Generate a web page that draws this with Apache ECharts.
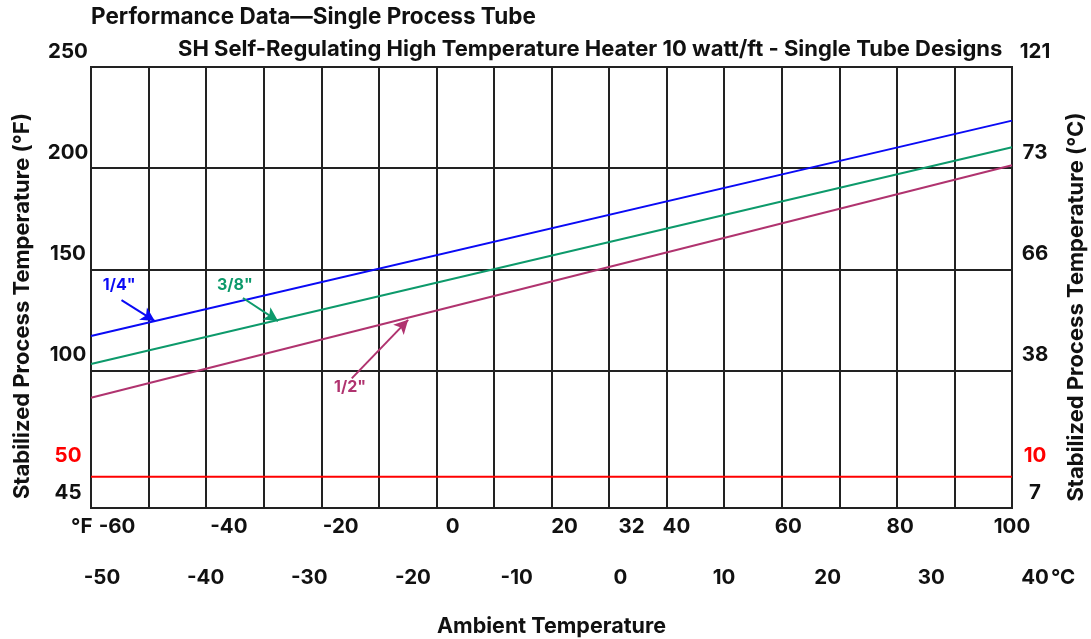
<!DOCTYPE html>
<html>
<head>
<meta charset="utf-8">
<title>SH Self-Regulating Heater - Performance Data</title>
<script src="https://cdn.jsdelivr.net/npm/echarts@6/dist/echarts.min.js"></script>
<style>
  html, body { margin: 0; padding: 0; background: #fff; }
  #chart { width: 1091px; height: 639px; }
</style>
</head>
<body>
<div id="chart"></div>
<script>
// ambient temperature at the two ends of each line (°F)
const ambientF = [-60, 100]
// stabilized process temperature (°F) per tube size
const tubeQuarter = [117.0, 223.5]
const tubeThreeEighths = [103.2, 210.3]
const tubeHalf = [86.5, 201.4]
// red reference line
const redLine = [47.5, 47.5]

// tick labels
const xTicksF = [-60, -40, -20, 0, 20, 32, 40, 60, 80, 100]
const xTicksC = [-50, -40, -30, -20, -10, 0, 10, 20, 30, 40]
const yGridValues = [250, 200, 150, 100, 32]
const yTickValues = [250, 200, 150, 100, 50, 32]
const yLabelsF = ['250', '200', '150', '100', '50', '45']
const yLabelsC = ['121', '73', '66', '38', '10', '7']

// callouts: label point, arrow start, arrow tip (°F, °F)
const calloutQuarter = ['1/4"', [-55.1, 142.2], [-54.7, 134.8], [-48.9, 124.4]]
const calloutThreeEighths = ['3/8"', [-35.0, 142.2], [-33.6, 135.8], [-27.5, 124.4]]
const calloutHalf = ['1/2"', [-15.0, 91.8], [-14.7, 96.1], [-4.9, 125.0]]

const FONT = "Inter, 'Liberation Sans', Arial, sans-serif"
const INK = '#111'
const GRID_COLOR = '#222'

const zip = (xs, ys) => xs.map((x, i) => [x, ys[i]])

const tubeSeries = (name, values, color, callout) => ({
  name,
  type: 'line',
  xAxisIndex: 0,
  yAxisIndex: 0,
  data: zip(ambientF, values),
  showSymbol: false,
  silent: true,
  lineStyle: { color, width: 2 },
  markPoint: {
    symbol: 'circle',
    symbolSize: 1,
    itemStyle: { color: 'rgba(0,0,0,0)' },
    label: {
      show: true,
      position: 'inside',
      formatter: callout[0],
      color,
      fontFamily: FONT,
      fontWeight: 'bold',
      fontSize: 16
    },
    data: [{ coord: callout[1] }]
  },
  markLine: {
    silent: true,
    symbol: ['none', 'arrow'],
    symbolSize: [11, 14],
    label: { show: false },
    lineStyle: { color, width: 2, type: 'solid' },
    data: [[{ coord: callout[2] }, { coord: callout[3] }]]
  }
})

const yLabel = (labels) => (value) => {
  const i = yTickValues.indexOf(value)
  const text = i < 0 ? '' : labels[i]
  return value === 50 ? '{red|' + text + '}' : text
}

const labelStyle = {
  fontFamily: FONT,
  fontWeight: 'bold',
  fontSize: 20.5,
  color: INK
}

const chart = echarts.init(document.getElementById('chart'))

chart.setOption({
  animation: false,
  backgroundColor: '#fff',
  title: [
    {
      text: 'Performance Data\u2014Single Process Tube',
      left: 91,
      top: 6,
      padding: 0,
      textStyle: { ...labelStyle, fontSize: 22.5 }
    },
    {
      text: 'SH Self-Regulating High Temperature Heater 10 watt/ft - Single Tube Designs',
      left: 178,
      top: 38,
      padding: 0,
      textStyle: { ...labelStyle, fontSize: 22 }
    }
  ],
  grid: [
    { left: 91, right: 79, top: 67, bottom: 131, outerBoundsMode: 'none', show: true, borderColor: GRID_COLOR, borderWidth: 2, backgroundColor: 'transparent' },
    { left: 117, right: 79, top: 67, bottom: 131, outerBoundsMode: 'none' },
    { left: 102, right: 56, top: 67, bottom: 131, outerBoundsMode: 'none' }
  ],
  xAxis: [
    {
      type: 'value',
      gridIndex: 0,
      min: -60,
      max: 100,
      interval: 10,
      axisLine: { show: false },
      axisTick: { show: false },
      axisLabel: { show: false },
      splitLine: { show: true, lineStyle: { color: GRID_COLOR, width: 2 } },
      name: 'Ambient Temperature',
      nameLocation: 'middle',
      nameGap: 108,
      nameTextStyle: { ...labelStyle, fontSize: 21.5 }
    },
    {
      type: 'value',
      gridIndex: 1,
      min: -60,
      max: 100,
      axisLine: { show: false },
      axisTick: { show: false },
      splitLine: { show: false },
      axisLabel: { customValues: xTicksF, margin: 8, ...labelStyle }
    },
    {
      type: 'value',
      gridIndex: 2,
      min: -50,
      max: 40,
      axisLine: { show: false },
      axisTick: { show: false },
      splitLine: { show: false },
      axisLabel: { customValues: xTicksC, margin: 59, ...labelStyle }
    }
  ],
  yAxis: [
    {
      type: 'value',
      gridIndex: 0,
      min: 32,
      max: 250,
      axisLine: { show: false },
      axisTick: { show: false, customValues: yGridValues },
      splitLine: { show: true, lineStyle: { color: GRID_COLOR, width: 2 } },
      axisLabel: {
        customValues: yTickValues,
        formatter: yLabel(yLabelsF),
        align: 'center',
        verticalAlign: 'bottom',
        padding: [0, 0, 5, 0],
        margin: 23,
        ...labelStyle,
        rich: { red: { ...labelStyle, color: '#ff0000' } }
      }
    },
    {
      type: 'value',
      gridIndex: 0,
      position: 'right',
      min: 32,
      max: 250,
      axisLine: { show: false },
      axisTick: { show: false },
      splitLine: { show: false },
      axisLabel: {
        customValues: yTickValues,
        formatter: yLabel(yLabelsC),
        align: 'center',
        verticalAlign: 'bottom',
        padding: [0, 0, 5, 0],
        margin: 23,
        ...labelStyle,
        rich: { red: { ...labelStyle, color: '#ff0000' } }
      }
    },
    { type: 'value', gridIndex: 1, show: false },
    { type: 'value', gridIndex: 2, show: false }
  ],
  graphic: [
    { type: 'text', left: 71, top: 516, style: { text: '\u00b0F', font: 'bold 20.5px ' + FONT, fill: INK } },
    { type: 'text', left: 1051, top: 567, style: { text: '\u00b0C', font: 'bold 20.5px ' + FONT, fill: INK } },
    {
      type: 'text', x: 22, y: 306, rotation: Math.PI / 2,
      style: { text: 'Stabilized Process Temperature (\u00b0F)', font: 'bold 22px ' + FONT, fill: INK, align: 'center', verticalAlign: 'middle' }
    },
    {
      type: 'text', x: 1076, y: 307, rotation: Math.PI / 2,
      style: { text: 'Stabilized Process Temperature (\u00b0C)', font: 'bold 22px ' + FONT, fill: INK, align: 'center', verticalAlign: 'middle' }
    }
  ],
  series: [
    {
      name: 'limit',
      type: 'line',
      xAxisIndex: 0,
      yAxisIndex: 0,
      data: zip(ambientF, redLine),
      showSymbol: false,
      silent: true,
      lineStyle: { color: '#ff0000', width: 2 }
    },
    tubeSeries('1/2"', tubeHalf, '#b0336f', calloutHalf),
    tubeSeries('3/8"', tubeThreeEighths, '#0d9a6b', calloutThreeEighths),
    tubeSeries('1/4"', tubeQuarter, '#0a0af5', calloutQuarter)
  ]
})

window.addEventListener('resize', () => chart.resize())
</script>
</body>
</html>
